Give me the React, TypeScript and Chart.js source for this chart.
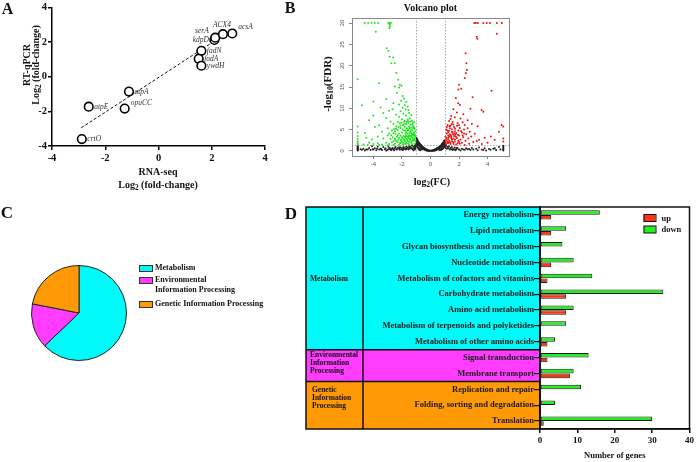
import React, { useEffect, useRef } from "react";
import { Chart, registerables } from "chart.js";
Chart.register(...registerables);

const SERIF = "'Liberation Serif', 'Times New Roman', Times, serif";
const SANS = "'Liberation Sans', Arial, sans-serif";

// ---------- Panel A: RNA-seq vs RT-qPCR ----------
const geneNames = ["crtO", "atpE", "opuCC", "atpA", "fadN", "fadA", "ywdH", "kdpD", "serA", "ACX4", "acsA"];
const rnaSeqLog2 = [-2.88, -2.62, -1.27, -1.11, 1.61, 1.51, 1.61, 2.1, 2.13, 2.42, 2.77];
const rtqpcrLog2 = [-3.6, -1.73, -1.84, -0.86, 1.49, 1.03, 0.63, 2.12, 2.25, 2.45, 2.49];
const fitLineX = [-2.9, 2.15];
const fitLineY = [-2.95, 2.1];
const axisTicksA = [-4, -2, 0, 2, 4];
// label placement (style only)
const geneLabelPlacement = ["r", "r", "ur", "r", "r", "r", "r", "l", "ul", "u", "ur"];

// ---------- Panel B: volcano plot ----------
const volcanoXTicks = [-4, -2, 0, 2, 4];
const volcanoYTicks = [0, 5, 10, 15, 20, 25, 30];
const fcCutoff = 1;
const fdrCutoff = 1.3;
const volcanoDown = `
-4.6,30 -4.37,30 -4.13,30 -3.9,30 -3.67,30 -2.97,30 -2.85,30 -2.78,30
-3.83,28 -2.86,29.6 -2.84,29.2 -2.88,28.8 -3.07,24.1 -2.95,23.5
-2.86,22.1 -2.62,21.9 -2.74,20.6 -2.5,20.6 -2.39,18.3 -2.27,16.7 -2.15,15.5 -2.5,15.1 -2.03,15.3 -2.2,14.9 -3.6,15.9 -5.1,16.8
-2.35,13.6 -1.95,12.9 -1.85,12.3 -2.05,11.8 -1.7,11.5 -3.1,12.2 -4.0,11.6 -2.6,11.2 -2.2,10.9 -1.8,10.7 -1.6,10.4 -4.8,10.7 -3.5,10.2
-1.95,10.1 -1.75,9.7 -2.1,9.3 -1.55,9.6 -1.9,8.8 -2.4,8.5 -1.5,8.9 -1.72,8.3 -2.2,8.0 -1.35,8.4 -2.9,9.4 -3.3,8.9 -2.65,9.8 -4.0,8.3
-1.45,7.6 -1.6,7.3 -1.8,7.1 -2.0,7.4 -2.3,6.8 -1.3,7.0 -1.55,6.6 -1.7,6.3 -1.95,6.1 -1.4,6.2 -1.25,6.5 -2.6,6.4 -3.1,7.7 -2.8,6.9 -3.6,6.0 -4.3,7.2 -1.85,6.9 -1.15,6.8 -2.15,6.5
-1.2,5.8 -1.35,5.5 -1.5,5.7 -1.65,5.3 -1.8,5.6 -1.95,5.1 -2.1,5.4 -2.3,4.9 -2.5,4.6 -1.1,5.2 -1.25,4.8 -1.4,4.6 -1.55,4.9 -1.7,4.4 -1.85,4.7 -2.0,4.3 -2.2,4.1
-1.15,4.3 -1.3,4.1 -1.45,4.2 -1.6,4.0 -1.75,4.05 -2.7,4.8 -3.0,5.3 -3.4,4.5 -3.9,5.6 -4.6,4.2 -1.05,4.6 -2.4,5.7 -1.9,5.95 -1.6,5.1 -1.35,5.0 -1.22,5.35 -1.48,5.3 -1.75,4.85
-1.1,3.9 -1.2,3.6 -1.3,3.8 -1.4,3.5 -1.5,3.7 -1.6,3.4 -1.7,3.6 -1.8,3.3 -1.9,3.5 -2.0,3.2 -2.1,3.6 -2.2,3.1 -2.35,3.3 -2.5,2.9 -2.65,3.2 -2.8,2.8
-1.15,3.2 -1.25,3.0 -1.35,3.3 -1.45,2.9 -1.55,3.1 -1.65,2.8 -1.75,3.0 -1.85,2.7 -1.95,2.9 -2.05,2.6 -2.25,2.7 -2.45,2.55 -3.0,3.6 -3.3,2.9 -3.7,3.4 -4.1,2.7 -4.5,3.1
-1.05,3.5 -1.12,3.75 -1.32,3.55 -1.52,3.45 -1.72,3.35
-1.2,2.4 -1.3,2.2 -1.4,2.45 -1.5,2.1 -1.6,2.3 -1.7,2.0 -1.8,2.35 -1.9,1.9 -2.0,2.2 -2.15,1.8 -2.3,2.1 -2.5,1.7 -2.7,2.0 -2.9,1.6 -3.1,1.9 -3.4,1.5 -3.7,1.8
-4.0,1.6 -4.3,1.9 -4.7,1.5 -1.55,1.7 -1.75,1.6 -1.95,1.5 -2.2,1.45 -2.6,1.4 -3.0,1.35 -3.6,1.45 -4.4,1.4 -1.35,1.9 -1.12,2.7
-1.15,5.5 -1.28,6.1 -1.42,6.9 -1.58,7.0 -1.68,6.8 -1.82,6.4 -2.02,6.6 -2.12,5.9 -2.25,5.6 -2.42,5.2 -2.55,5.1 -1.62,4.7 -1.38,4.35 -1.18,3.95
-1.08,2.9 -1.22,2.6 -1.42,2.7 -1.62,2.55 -1.82,2.5 -2.08,2.45 -2.38,2.25 -2.58,2.35 -1.28,1.55 -1.48,1.45 -1.68,1.75 -1.88,1.65 -2.08,1.9 -1.12,1.6
-1.05,2.3 -2.3,3.7 -2.45,4.0 -2.6,4.2 -2.75,3.7 -2.9,4.1
-5.1,5.7 -5.1,4.3 -5.1,3.5 -5.1,2.8 -5.1,2.2 -5.1,1.8 -5.1,1.5
`;
const volcanoUp = `
3.07,30 3.17,30 3.31,30 3.7,30 3.94,30 4.17,30 4.65,30 5.0,30
3.24,26.8 3.28,26.3 4.65,27.5 2.46,22.9 2.52,20.6 2.55,19.0 2.48,18.3 2.4,17.1 2.0,15.5 1.95,14.4 2.15,14.6 1.78,12.4 1.94,11.2 2.06,10.8
4.28,14.1 3.58,9.6 3.7,9.2 4.98,6.1 5.1,5.7 4.5,2.6 4.23,3.4 3.4,2.6 3.24,2.3 2.4,6.1 2.6,5.3 2.95,12.6 2.8,9.9
1.6,9.8 1.85,9.0 2.3,8.6 1.45,8.2 1.7,7.9 2.1,7.6 2.6,7.2 1.3,7.0 1.55,6.8 1.9,6.5 2.25,6.7 2.9,6.3 3.3,5.8 1.2,6.1 1.4,5.9 1.65,5.6 1.85,5.9 2.05,5.4 2.35,5.0 2.75,4.5 3.1,4.0
1.1,5.0 1.3,4.7 1.5,5.1 1.7,4.6 1.95,4.8 2.2,4.3 2.5,3.9 2.85,3.4 1.15,4.1 1.35,3.9 1.55,4.3 1.75,3.8 2.0,3.6 2.3,3.2 2.65,2.9 1.05,3.3 1.25,3.1 1.45,3.4 1.6,2.9 1.85,3.0 2.1,2.7 2.45,2.4 3.0,2.1
1.1,2.5 1.3,2.3 1.5,2.6 1.7,2.2 1.95,2.4 2.2,1.9 2.7,1.7 3.6,1.6 1.2,1.8 1.4,1.6 1.6,1.9 1.8,1.5 2.05,1.7 2.4,1.4 1.35,5.3 1.6,6.2 1.25,4.4 1.45,3.0 1.65,3.5 1.4,7.5
4.8,4.5 5.1,2.9 5.1,2.2 4.0,1.9 3.8,3.1 1.15,5.6 1.5,4.5 1.8,4.2 1.25,3.6 1.05,2.1
1.08,1.6 1.18,2.1 1.28,1.9 1.38,2.0 1.52,2.2 1.62,1.6 1.72,2.7 1.9,1.8 2.0,2.1 1.12,3.0 1.22,2.7 1.32,3.4 1.42,3.7 1.58,3.9 1.68,4.1 1.78,3.3
1.92,3.8 2.15,4.6 2.25,3.6 2.35,4.1 1.18,4.8 1.33,5.8 1.48,6.3 1.72,5.2 2.0,6.0
`;
const volcanoNS = `
0,0.05 0.1,0.1 -0.1,0.08 0.2,0.15 -0.2,0.2 0.3,0.3 -0.3,0.35 0.4,0.5 -0.4,0.55 0.5,0.7 -0.5,0.8 0.6,0.9 -0.6,1.1 0.7,1.2 -0.7,1.5 0.8,1.6 -0.8,1.9 0.9,2.0 -0.9,2.4
0.95,2.3 -0.95,2.8 -0.85,2.1 0.85,1.8 -0.75,1.7 0.75,1.35 -0.65,1.3 0.65,1.0 -0.55,1.0 0.55,0.8 -0.45,0.7 0.45,0.6 -0.35,0.45 0.35,0.4 -0.25,0.3 0.25,0.2 -0.15,0.12 0.15,0.1
-0.9,1.6 -0.8,1.2 -0.7,0.9 -0.6,0.6 -0.5,0.4 -0.4,0.3 0.4,0.2 0.5,0.4 0.6,0.5 0.7,0.8 0.8,1.1 0.9,1.4 -0.9,0.9 -0.8,0.6 -0.7,0.4 -0.6,0.3 0.6,0.2 0.7,0.4 0.8,0.6 0.9,0.8
-0.95,2.0 -0.85,1.4 0.95,1.6 -0.98,3.0 -0.92,2.6 0.98,2.5 0.92,1.9 -0.3,0.1 0.3,0.05 -0.05,0.02 0.05,0.03
-0.95,2.5 -0.9,2.1 -0.88,1.8 -0.82,1.5 -0.78,1.3 -0.72,1.1 -0.68,0.8 -0.62,0.7 -0.58,0.5 -0.52,0.6 -0.48,0.45 -0.42,0.4 -0.38,0.2 -0.32,0.25 -0.28,0.15
-0.22,0.1 -0.18,0.05 -0.12,0.06 0.12,0.04 0.18,0.08 0.22,0.12 0.28,0.18 0.32,0.2 0.38,0.3 0.42,0.35 0.48,0.5 0.52,0.55 0.58,0.6 0.62,0.75 0.68,0.9
0.72,1.0 0.78,1.2 0.82,1.4 0.88,1.6 0.92,1.7 0.97,2.0 -0.97,1.3 -0.93,1.1 -0.87,0.7 -0.83,0.4 -0.77,0.25 -0.73,0.15 0.73,0.2 0.77,0.3 0.83,0.45
0.87,0.55 0.93,0.9 0.97,1.1 0.99,1.5 -0.99,2.2 -1.0,1.7 1.02,1.9 1.04,1.5 1.06,1.25 -1.02,1.4 -1.04,1.1 -1.06,0.5 -1.08,0.8
-1.1,1.2 -1.2,1.0 -1.3,1.25 -1.4,0.9 -1.5,1.1 -1.6,0.8 -1.7,1.0 -1.8,0.7 -1.9,0.9 -2.0,0.6 -2.1,0.8 -2.2,0.5 -2.3,0.7 -2.4,0.4 -2.5,0.6 -2.6,0.35 -2.7,0.5 -2.8,0.3 -2.9,0.45
-3.0,0.25 -3.2,0.4 -3.4,0.2 -3.6,0.35 -3.8,0.15 -4.0,0.3 -4.2,0.2 -4.4,0.35 -4.6,0.1 -4.8,0.25 -1.15,0.6 -1.25,0.4 -1.35,0.7 -1.45,0.5 -1.55,0.3 -1.65,0.55 -1.75,0.35
-1.85,0.5 -1.95,0.2 -2.05,0.4 -2.15,0.25 -2.35,0.3 -2.55,0.15 -2.75,0.2 -3.1,0.1 -3.5,0.5 -3.9,0.6 -4.3,0.7 -4.7,0.5 -3.3,0.9 -2.95,1.0 -3.7,1.0 -4.1,1.1 -1.05,0.9 -1.1,0.3 -1.2,0.15
-1.3,0.55 -1.5,0.65 -1.7,0.45 -1.9,0.3 -2.2,0.85 -2.45,0.9 -2.65,0.7 -2.85,0.65 -3.15,0.6 -3.45,0.4 -3.75,0.5 -4.05,0.4 -4.5,0.3 -4.9,0.4
1.1,1.2 1.2,0.9 1.3,1.1 1.4,0.7 1.5,0.9 1.6,0.5 1.7,0.8 1.8,0.4 1.9,0.6 2.0,0.3 2.2,0.5 2.4,0.25 2.6,0.4 2.8,0.2 3.0,0.35 3.3,0.15 3.6,0.3 3.9,0.1 4.2,0.25 4.6,0.2
1.15,0.5 1.35,0.3 1.55,0.2 1.75,0.15 2.1,0.1 2.5,0.6 2.9,0.7 3.4,0.8 3.8,0.6 4.4,0.5 4.8,0.9 1.0,1.0 1.05,0.7
1.25,0.6 1.45,0.4 1.65,0.3 1.85,0.7 2.3,0.35 2.7,0.45 3.2,0.5 3.7,0.2 4.1,0.45 4.5,0.6 4.9,0.3
-5.1,0.1 -5.1,0.3 -5.1,0.5 -5.1,0.7 -5.1,0.9 -5.1,1.1 -5.1,0.2 -5.1,0.6 -5.1,1.0
5.1,0.1 5.1,0.3 5.1,0.5 5.1,0.8 5.1,1.0 5.1,1.2
`;
const parsePoints = (s: string) =>
  s.trim().split(/\s+/).map((p) => {
    const [x, y] = p.split(",").map(Number);
    return { x, y };
  });

// ---------- Panel C: pie ----------
const pieCategories = ["Metabolism", "Environmental Information Processing", "Genetic Information Processing"];
const pieValues = [132, 32, 46];

// ---------- Panel D: KEGG bars ----------
const keggPathways = [
  "Energy metabolism",
  "Lipid metabolism",
  "Glycan biosynthesis and metabolism",
  "Nucleotide metabolism",
  "Metabolism of cofactors and vitamins",
  "Carbohydrate metabolism",
  "Amino acid metabolism",
  "Metabolism of terpenoids and polyketides",
  "Metabolism of other amino acids",
  "Signal transduction",
  "Membrane transport",
  "Replication and repair",
  "Folding, sorting and degradation",
  "Translation",
];
const upCounts = [3, 3, 0, 3, 2, 7, 7, 0, 2, 2, 8, 0, 0, 1];
const downCounts = [16, 7, 6, 9, 14, 33, 9, 7, 4, 13, 9, 11, 4, 30];
const keggGroupSizes = [9, 2, 3];
const keggGroupLines = [["Metabolism"], ["Environmental", "Information", "Processing"], ["Genetic", "Information", "Processing"]];
const xTicksD = [0, 10, 20, 30, 40];

const CYAN = "#00fafa";
const MAGENTA = "#ff3cff";
const ORANGE = "#ff9a06";
const groupColors = [CYAN, MAGENTA, ORANGE];
const groupLabelShift = [1, -2.5, -7];
const groupLabelIndent = [0, 0, 2];

const setTicks = (vals: number[]) => (s: any) => {
  s.ticks = vals.map((v) => ({ value: v }));
};

const geneLabelPlugin = {
  id: "geneLabels",
  afterDatasetsDraw(chart: any) {
    const { ctx } = chart;
    const meta = chart.getDatasetMeta(0);
    ctx.save();
    ctx.font = `italic 7.5px ${SERIF}`;
    ctx.fillStyle = "#333";
    ctx.textBaseline = "middle";
    meta.data.forEach((el: any, i: number) => {
      const { x, y } = el.getProps(["x", "y"], true);
      const p = geneLabelPlacement[i];
      let tx = x + 5.5, ty = y, align: CanvasTextAlign = "left";
      if (p === "l") { tx = x - 5.5; align = "right"; }
      else if (p === "ur") { tx = x + 6; ty = y - 6; }
      else if (p === "ul") { tx = x - 6.5; ty = y - 7; align = "right"; }
      else if (p === "u") { tx = x - 1; ty = y - 9; align = "center"; }
      ctx.textAlign = align;
      ctx.fillText(geneNames[i], tx, ty);
    });
    ctx.restore();
  },
};

const volcanoPlugin = {
  id: "volcanoDecor",
  beforeDatasetsDraw(chart: any) {
    const { ctx, chartArea: a, scales } = chart;
    ctx.save();
    ctx.strokeStyle = "#aaa";
    ctx.lineWidth = 1;
    ctx.setLineDash([1.5, 1.5]);
    ctx.beginPath();
    [-fcCutoff, fcCutoff].forEach((v) => {
      const x = Math.round(scales.x.getPixelForValue(v)) + 0.5;
      ctx.moveTo(x, a.top);
      ctx.lineTo(x, a.bottom);
    });
    const y = Math.round(scales.y.getPixelForValue(fdrCutoff)) + 0.5;
    ctx.moveTo(a.left, y);
    ctx.lineTo(a.right, y);
    ctx.stroke();
    ctx.restore();
  },
  afterDraw(chart: any) {
    const { ctx, chartArea: a } = chart;
    ctx.save();
    ctx.strokeStyle = "#888";
    ctx.lineWidth = 1;
    ctx.strokeRect(Math.round(a.left) + 0.5, Math.round(a.top) + 0.5, Math.round(a.right - a.left), Math.round(a.bottom - a.top));
    ctx.fillStyle = "#111";
    ctx.font = `bold 10px ${SERIF}`;
    ctx.textAlign = "center";
    ctx.textBaseline = "middle";
    ctx.fillText("Volcano plot", (a.left + a.right) / 2, 8);
    ctx.restore();
  },
};

const keggPlugin = {
  id: "keggDecor",
  beforeDraw(chart: any) {
    const { ctx, chartArea: a } = chart;
    const rowH = (a.bottom - a.top) / keggPathways.length;
    const outerLeft = 6;
    const divider = 63;
    ctx.save();
    let start = 0;
    keggGroupSizes.forEach((n, g) => {
      const y0 = a.top + start * rowH;
      const y1 = a.top + (start + n) * rowH;
      ctx.fillStyle = groupColors[g];
      ctx.fillRect(outerLeft, y0, a.left - outerLeft, y1 - y0);
      ctx.fillStyle = "#111";
      ctx.font = `bold 7.5px ${SERIF}`;
      ctx.textAlign = "left";
      ctx.textBaseline = "middle";
      const lines = keggGroupLines[g];
      const lh = 7.8;
      const cy = (y0 + y1) / 2 + groupLabelShift[g];
      lines.forEach((t, k) => {
        ctx.fillText(t, outerLeft + 4 + groupLabelIndent[g], cy + (k - (lines.length - 1) / 2) * lh);
      });
      start += n;
    });
    ctx.strokeStyle = "#111";
    ctx.lineWidth = 1.5;
    ctx.strokeRect(outerLeft, a.top, a.left - outerLeft, a.bottom - a.top);
    ctx.beginPath();
    ctx.moveTo(divider, a.top);
    ctx.lineTo(divider, a.bottom);
    start = 0;
    keggGroupSizes.slice(0, -1).forEach((n) => {
      start += n;
      const y = a.top + start * rowH;
      ctx.moveTo(outerLeft, y);
      ctx.lineTo(a.left, y);
    });
    ctx.stroke();
    ctx.restore();
  },
  afterDraw(chart: any) {
    const { ctx, chartArea: a } = chart;
    ctx.save();
    ctx.strokeStyle = "#111";
    ctx.lineWidth = 1.5;
    ctx.strokeRect(a.left, a.top, a.right - a.left, a.bottom - a.top);
    const items = [chart.data.datasets[1], chart.data.datasets[0]];
    items.forEach((ds: any, i: number) => {
      const y = a.top + 11 + i * 11.5;
      const bx = a.right - 46;
      ctx.fillStyle = ds.backgroundColor;
      ctx.fillRect(bx, y - 3.5, 12, 7);
      ctx.lineWidth = 1;
      ctx.strokeStyle = "#111";
      ctx.strokeRect(bx + 0.5, y - 3.5, 12, 7);
      ctx.fillStyle = "#111";
      ctx.font = `bold 8.5px ${SERIF}`;
      ctx.textAlign = "left";
      ctx.textBaseline = "middle";
      ctx.fillText(ds.label, bx + 18, y + 0.5);
    });
    ctx.restore();
  },
};

const Txt = ({ x, y, size, children, rot, left, weight = "bold", color = "#111" }: any) => (
  <div
    style={{
      position: "absolute",
      left: x,
      top: y,
      transform: `translate(${left ? "0" : "-50%"},-50%)${rot ? " rotate(-90deg)" : ""}`,
      font: `${weight} ${size}px ${SERIF}`,
      lineHeight: 1,
      whiteSpace: "nowrap",
      color,
    }}
  >
    {children}
  </div>
);
const Sub = ({ children }: any) => (
  <sub style={{ fontSize: "0.72em", verticalAlign: "-0.28em", lineHeight: 0 }}>{children}</sub>
);

export default function App() {
  const aRef = useRef<HTMLCanvasElement>(null);
  const bRef = useRef<HTMLCanvasElement>(null);
  const cRef = useRef<HTMLCanvasElement>(null);
  const dRef = useRef<HTMLCanvasElement>(null);

  useEffect(() => {
    const boldTick = (size: number) => ({ family: SERIF, size, weight: "bold" as const });
    const axisA = (isX: boolean) => ({
      type: "linear" as const,
      min: -4,
      max: 4,
      afterBuildTicks: setTicks(axisTicksA),
      afterFit: (s: any) => {
        if (isX) s.height = 54;
        else s.width = 52;
      },
      grid: { display: true, drawOnChartArea: false, drawTicks: true, tickLength: 4, color: "#000", lineWidth: 1.5 },
      border: { display: true, color: "#000", width: 1.5 },
      ticks: { font: boldTick(10.5), color: "#111", padding: isX ? 2 : 1 },
    });
    const chartA = new Chart(aRef.current!, {
      type: "scatter",
      data: {
        datasets: [
          {
            data: rnaSeqLog2.map((x, i) => ({ x, y: rtqpcrLog2[i] })),
            pointRadius: 4.3,
            pointBorderWidth: 1.6,
            pointBorderColor: "#000",
            pointBackgroundColor: "#fff",
          },
          {
            data: fitLineX.map((x, i) => ({ x, y: fitLineY[i] })),
            showLine: true,
            borderColor: "#111",
            borderWidth: 1,
            borderDash: [3, 2],
            pointRadius: 0,
          },
        ],
      },
      options: {
        responsive: false,
        animation: false,
        devicePixelRatio: 1,
        layout: { padding: { top: 5, right: 15, left: 0, bottom: 0 } },
        plugins: { legend: { display: false }, tooltip: { enabled: false } },
        scales: { x: axisA(true), y: axisA(false) } as any,
      },
      plugins: [geneLabelPlugin],
    });

    const volcanoAxis = (isX: boolean) => ({
      type: "linear" as const,
      min: isX ? -5.5 : -1.2,
      max: isX ? 5.5 : 31.2,
      afterBuildTicks: setTicks(isX ? volcanoXTicks : volcanoYTicks),
      afterFit: (s: any) => {
        if (isX) s.height = 44;
        else s.width = 62;
      },
      grid: { display: true, drawOnChartArea: false, drawTicks: true, tickLength: 3, color: "#888", lineWidth: 1 },
      border: { display: true, color: "#888", width: 1 },
      ticks: isX
        ? { font: { family: SANS, size: 6 }, color: "#555", padding: 2, maxRotation: 0 }
        : { font: { family: SANS, size: 6 }, color: "#555", padding: 3, minRotation: 90, maxRotation: 90, crossAlign: "center" as const },
    });
    const chartB = new Chart(bRef.current!, {
      type: "scatter",
      data: {
        datasets: [
          { data: parsePoints(volcanoDown), pointRadius: 1, borderWidth: 0, pointBackgroundColor: "#1ee61e" },
          { data: parsePoints(volcanoUp), pointRadius: 1, borderWidth: 0, pointBackgroundColor: "#f01010" },
          { data: parsePoints(volcanoNS), pointRadius: 1, borderWidth: 0, pointBackgroundColor: "#222" },
        ],
      },
      options: {
        responsive: false,
        animation: false,
        devicePixelRatio: 1,
        layout: { padding: { top: 18, right: 11, left: 0, bottom: 0 } },
        plugins: { legend: { display: false }, tooltip: { enabled: false } },
        scales: { x: volcanoAxis(true), y: volcanoAxis(false) } as any,
      },
      plugins: [volcanoPlugin],
    });

    const chartC = new Chart(cRef.current!, {
      type: "pie",
      data: {
        labels: pieCategories,
        datasets: [{ data: pieValues, backgroundColor: groupColors, borderColor: "#222", borderWidth: 1 }],
      },
      options: {
        responsive: false,
        animation: false,
        devicePixelRatio: 1,
        radius: 47.5,
        plugins: { legend: { display: false }, tooltip: { enabled: false } },
      } as any,
    });

    const chartD = new Chart(dRef.current!, {
      type: "bar",
      data: {
        labels: keggPathways,
        datasets: [
          { label: "down", data: downCounts, backgroundColor: "#22ee22", borderColor: "#1a1a1a", borderWidth: 1, borderSkipped: false },
          { label: "up", data: upCounts, backgroundColor: "#ff3311", borderColor: "#1a1a1a", borderWidth: 1, borderSkipped: false },
        ],
      },
      options: {
        indexAxis: "y",
        responsive: false,
        animation: false,
        devicePixelRatio: 1,
        layout: { padding: { top: 7, right: 5, left: 0, bottom: 0 } },
        datasets: { bar: { categoryPercentage: 0.6, barPercentage: 0.95 } },
        plugins: { legend: { display: false }, tooltip: { enabled: false } },
        scales: {
          x: {
            type: "linear",
            min: 0,
            max: 40,
            afterBuildTicks: setTicks(xTicksD),
            afterFit: (s: any) => { s.height = 33; },
            grid: { display: true, drawOnChartArea: false, drawTicks: true, tickLength: 4, color: "#111", lineWidth: 1.5 },
            border: { display: true, color: "#111", width: 1.5 },
            ticks: { font: boldTick(9), color: "#111", padding: 2, maxRotation: 0 },
            title: { display: true, text: "Number of genes", font: boldTick(8.5), color: "#111", padding: { top: 0, bottom: 1 } },
          },
          y: {
            type: "category",
            afterFit: (s: any) => { s.width = 240; },
            grid: { display: true, drawOnChartArea: false, drawTicks: true, tickLength: 6, color: "#111", lineWidth: 1.2, offset: false },
            border: { display: true, color: "#111", width: 1.5 },
            ticks: { font: boldTick(8.5), color: "#1a1a1a", padding: 0, autoSkip: false },
          },
        },
      } as any,
      plugins: [keggPlugin],
    });

    return () => {
      chartA.destroy();
      chartB.destroy();
      chartC.destroy();
      chartD.destroy();
    };
  }, []);

  const legendBox = (color: string, y: number) => (
    <div style={{ position: "absolute", left: 138.5, top: y - 3, width: 12, height: 5, background: color, border: "1px solid #333" }} />
  );

  return (
    <div style={{ position: "absolute", left: 0, top: 0, width: 696, height: 462, background: "#fff", overflow: "hidden" }}>
      <canvas ref={aRef} width={280} height={200} style={{ position: "absolute", left: 0, top: 0 }} />
      <canvas ref={bRef} width={230} height={200} style={{ position: "absolute", left: 290, top: 0 }} />
      <canvas ref={cRef} width={120} height={120} style={{ position: "absolute", left: 19, top: 253 }} />
      <canvas ref={dRef} width={396} height={262} style={{ position: "absolute", left: 300, top: 200 }} />

      {/* Panel A texts */}
      <Txt x={7.5} y={8.5} size={16}>A</Txt>
      <Txt x={158} y={171.5} size={10}>RNA-seq</Txt>
      <Txt x={158} y={185} size={10}>Log<Sub>2</Sub> (fold-change)</Txt>
      <Txt x={27} y={65} size={10} rot>RT-qPCR</Txt>
      <Txt x={36} y={65} size={10} rot>Log<Sub>2</Sub> (fold-change)</Txt>

      {/* Panel B texts */}
      <Txt x={290} y={8} size={16}>B</Txt>
      <Txt x={327} y={84} size={11} rot>-log<Sub>10</Sub>(FDR)</Txt>
      <Txt x={432} y={182} size={10}>log<Sub>2</Sub>(FC)</Txt>

      {/* Panel C texts */}
      <Txt x={7} y={211.5} size={17}>C</Txt>
      {legendBox(CYAN, 267.5)}
      <Txt x={155} y={267.5} size={8} left>{pieCategories[0]}</Txt>
      {legendBox(MAGENTA, 279.5)}
      <Txt x={155} y={279.5} size={8} left>Environmental</Txt>
      <Txt x={155} y={289.5} size={8} left>Information Processing</Txt>
      {legendBox(ORANGE, 303.5)}
      <Txt x={155} y={303.5} size={8} left>{pieCategories[2]}</Txt>

      {/* Panel D texts */}
      <Txt x={291} y={213} size={17}>D</Txt>
    </div>
  );
}
